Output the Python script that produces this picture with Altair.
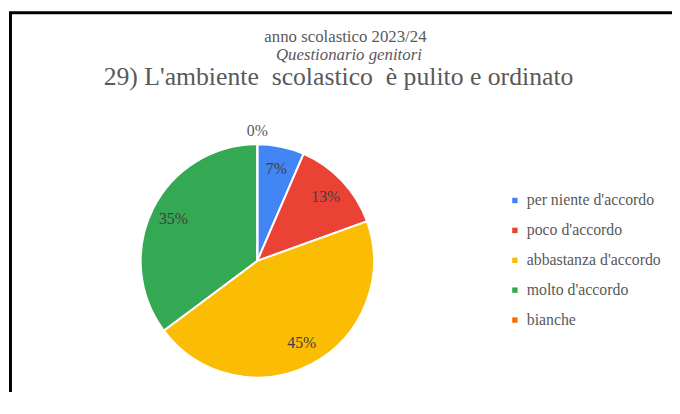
import altair as alt
import pandas as pd

# ---- data ----
categories = ["per niente d'accordo", "poco d'accordo", "abbastanza d'accordo",
              "molto d'accordo", "bianche"]
values = [6.5, 13, 45.3, 35.2, 0]
colors = ["#4285F4", "#EA4335", "#FBBC04", "#34A853", "#FF6D01"]
header_lines = ["anno scolastico 2023/24", "Questionario genitori",
                "29) L'ambiente\u00a0 scolastico\u00a0 è pulito e ordinato"]

df = pd.DataFrame({"cat": categories, "val": values,
                   "idx": list(range(len(categories)))})

FONT = "Liberation Serif"
GREY = "#595959"
CX, CY = 252.3, 253.6
R = 118
W, H = 672, 384

base = alt.Chart(df).transform_calculate(
    label="format(datum.val, '.0f') + '%'"
)
theta = alt.Theta("val:Q", stack=True)
order = alt.Order("idx:Q", sort="ascending")

pie = base.mark_arc(radius=R, stroke="white", strokeWidth=2).encode(
    theta=theta,
    order=order,
    color=alt.Color(
        "cat:N",
        sort=categories,
        scale=alt.Scale(domain=categories, range=colors),
        legend=alt.Legend(
            title=None, orient="none", legendX=505, legendY=184.5,
            symbolType="square", symbolSize=30, symbolStrokeWidth=0,
            labelFont=FONT, labelFontSize=16, labelColor=GREY,
            rowPadding=14.25, labelOffset=4, padding=0, labelLimit=400,
        ),
    ),
    x=alt.value(CX), y=alt.value(CY),
)

inner = base.mark_text(radius=95, font=FONT, fontSize=16, color="#404040").encode(
    theta=theta, order=order, detail="cat:N",
    text=alt.condition("datum.val > 0", alt.Text("label:N"), alt.value("")),
    x=alt.value(CX), y=alt.value(CY),
)
outer = base.mark_text(radius=131, font=FONT, fontSize=16, color=GREY).encode(
    theta=theta, order=order, detail="cat:N",
    text=alt.condition("datum.val == 0", alt.Text("label:N"), alt.value("")),
    x=alt.value(CX), y=alt.value(CY),
)

one = alt.Data(values=[{}])
border = alt.Chart(one).mark_rect(filled=False, stroke="black", strokeWidth=3).encode(
    x=alt.value(2.5), y=alt.value(2.5), x2=alt.value(W + 5), y2=alt.value(H + 5)
)
h1 = alt.Chart(one).mark_text(text=header_lines[0], font=FONT, fontSize=17,
                              color=GREY, align="center", baseline="alphabetic").encode(
    x=alt.value(341.5), y=alt.value(32))
h2 = alt.Chart(one).mark_text(text=header_lines[1], font=FONT, fontSize=17, fontStyle="italic",
                              color=GREY, align="center", baseline="alphabetic").encode(
    x=alt.value(345), y=alt.value(50))
h3 = alt.Chart(one).mark_text(text=header_lines[2], font=FONT, fontSize=26,
                              color=GREY, align="center", baseline="alphabetic").encode(
    x=alt.value(334.5), y=alt.value(75.5))

chart = alt.layer(border, pie, inner, outer, h1, h2, h3).properties(
    width=W, height=H, padding=0,
    autosize=alt.AutoSizeParams(type="none"),
    background="white",
).configure_view(stroke=None)

chart.save("out.html", embed_options={"renderer": "svg", "actions": False})
